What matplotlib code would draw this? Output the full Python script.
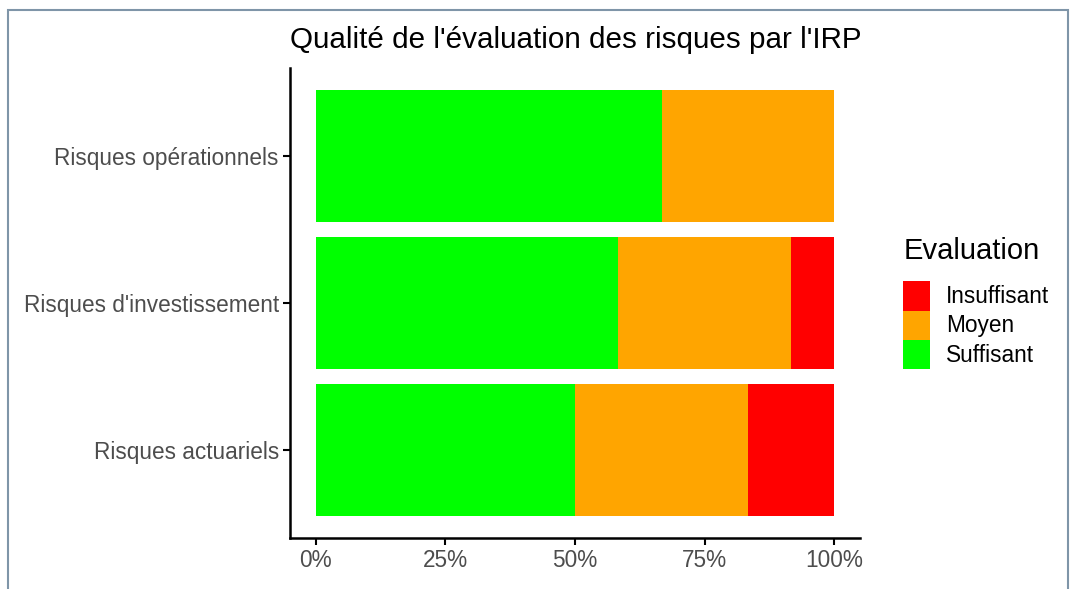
import numpy as np
import matplotlib
matplotlib.use('Agg')
import matplotlib.pyplot as plt
from matplotlib.patches import Patch, Rectangle

plt.rcParams['font.family'] = ['Liberation Sans', 'DejaVu Sans']

categories = ['Risques actuariels', "Risques d'investissement", 'Risques opérationnels']
suffisant = [0.5, 0.583, 0.667]
moyen = [0.333, 0.333, 0.333]
insuffisant = [0.167, 0.083, 0.0]
levels = ['Insuffisant', 'Moyen', 'Suffisant']
colors = {'Insuffisant': '#FF0000', 'Moyen': '#FFA500', 'Suffisant': '#00FF00'}
xticks = [0, 0.25, 0.5, 0.75, 1.0]
xticklabels = ['0%', '25%', '50%', '75%', '100%']

fig = plt.figure(figsize=(10.72, 5.89), dpi=100)
ax = fig.add_axes([0.2705, 0.0866, 0.5317, 0.798])

y = np.arange(1, len(categories) + 1)
s = np.array(suffisant)
m = np.array(moyen)
ins = np.array(insuffisant)
ax.barh(y, s, height=0.9, color=colors['Suffisant'], left=0)
ax.barh(y, m, height=0.9, color=colors['Moyen'], left=s)
ax.barh(y, ins, height=0.9, color=colors['Insuffisant'], left=s + m)

ax.set_xlim(-0.05, 1.05)
ax.set_ylim(0.4, 3.6)
ax.set_yticks(y)
ax.set_yticklabels(categories)
ax.set_xticks(xticks)
ax.set_xticklabels(xticklabels)
for sp in ['top', 'right']:
    ax.spines[sp].set_visible(False)
for sp in ['left', 'bottom']:
    ax.spines[sp].set_linewidth(1.8)
    ax.spines[sp].set_color('black')
ax.tick_params(axis='both', length=5, width=1.5, color='black',
               labelsize=16.3, labelcolor='#4d4d4d', pad=3)

fig.text(0.5368, 0.932, "Qualité de l'évaluation des risques par l'IRP",
         ha='center', va='center', fontsize=21.3, color='black')

handles = [Patch(facecolor=colors[k], edgecolor='none', label=k) for k in levels]
leg = fig.legend(handles=handles, loc='upper left', bbox_to_anchor=(0.8425, 0.598),
                 frameon=False, title='Evaluation', fontsize=16.3,
                 title_fontsize=21, handlelength=1.2, handleheight=1.6,
                 labelspacing=0, handletextpad=0.7, borderaxespad=0, borderpad=0)
leg._legend_box.align = 'left'
leg._legend_box.sep = 12

fig.patches.append(Rectangle((0.0075, -0.05), 0.989, 1.033, transform=fig.transFigure,
                             fill=False, edgecolor='#7f95a8', linewidth=1.5))

fig.savefig('out.png', dpi=100)
